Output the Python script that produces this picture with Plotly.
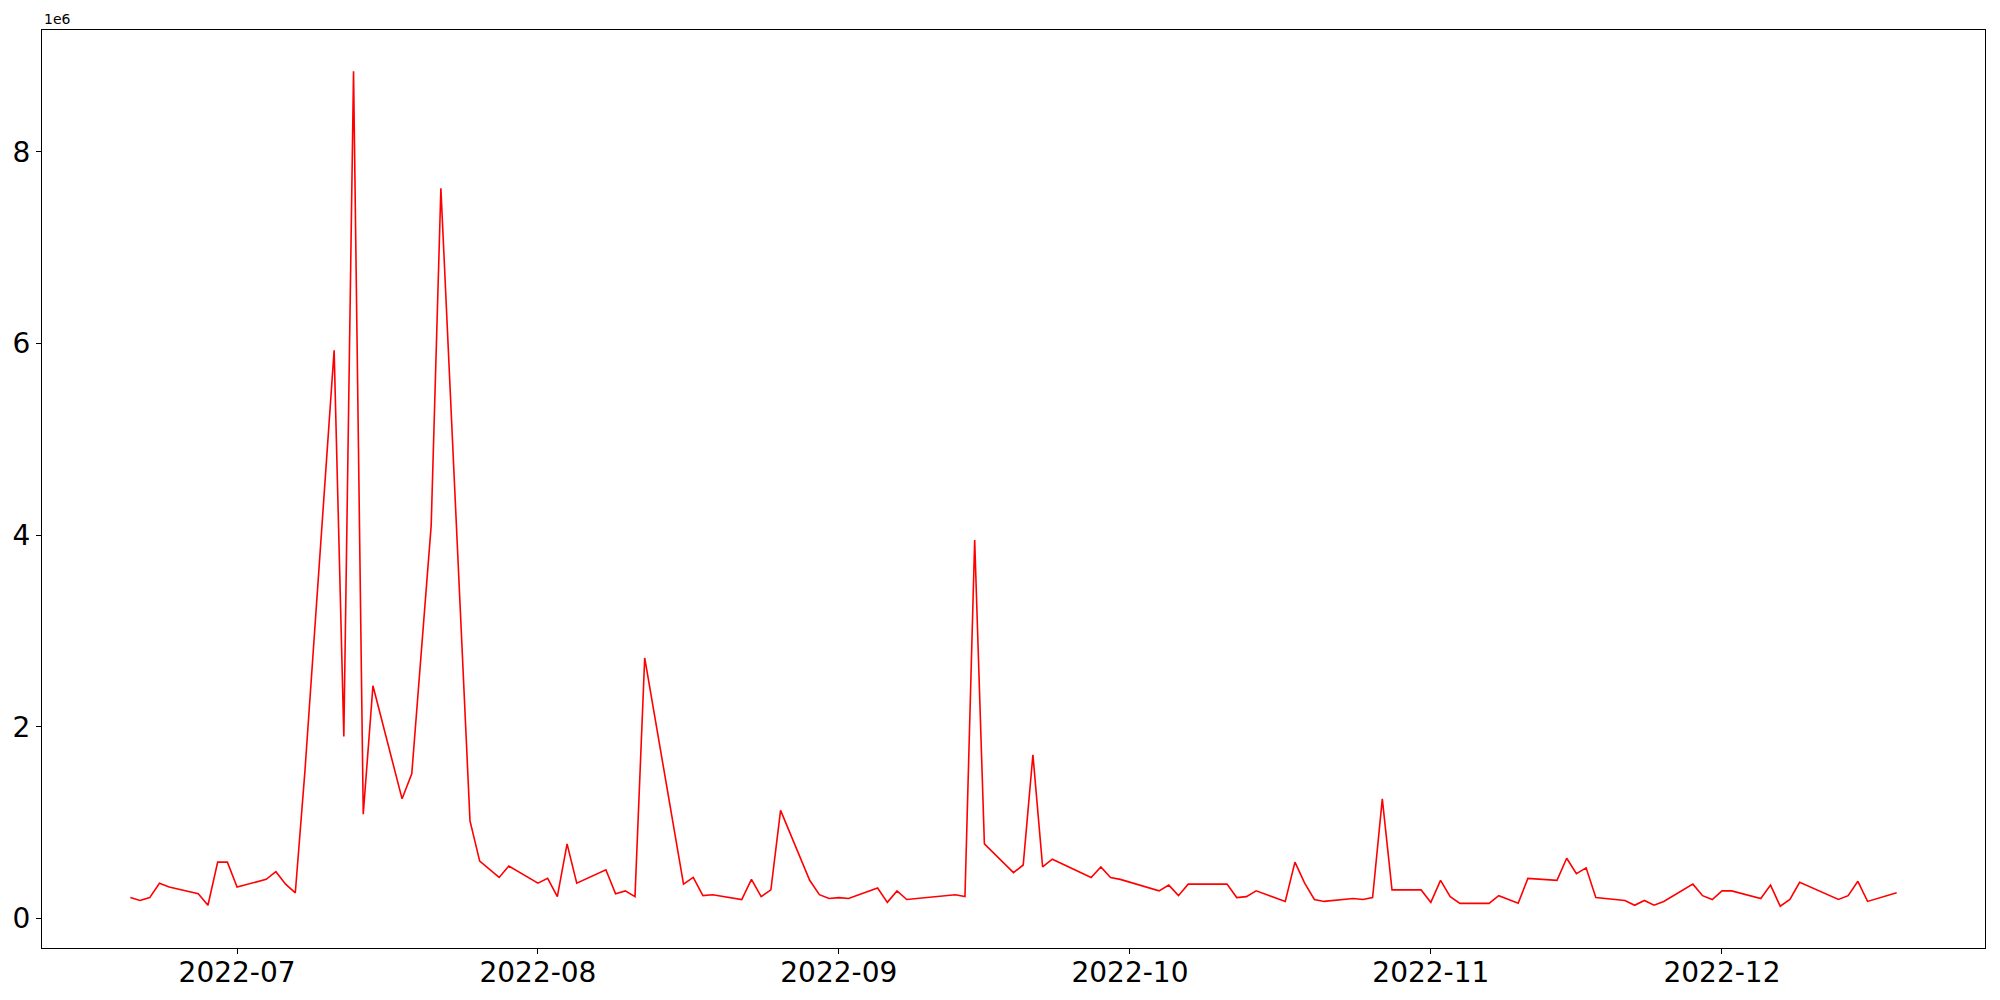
import plotly.graph_objects as go

dates = [
    "2022-06-20", "2022-06-21", "2022-06-22", "2022-06-23", "2022-06-24",
    "2022-06-27", "2022-06-28", "2022-06-29", "2022-06-30", "2022-07-01",
    "2022-07-04", "2022-07-05", "2022-07-06", "2022-07-07", "2022-07-08",
    "2022-07-11", "2022-07-12", "2022-07-13", "2022-07-14", "2022-07-15",
    "2022-07-18", "2022-07-19", "2022-07-21", "2022-07-22",
    "2022-07-25", "2022-07-26", "2022-07-28", "2022-07-29",
    "2022-08-01", "2022-08-02", "2022-08-03", "2022-08-04", "2022-08-05",
    "2022-08-08", "2022-08-09", "2022-08-10", "2022-08-11", "2022-08-12",
    "2022-08-16", "2022-08-17", "2022-08-18", "2022-08-19",
    "2022-08-22", "2022-08-23", "2022-08-24", "2022-08-25", "2022-08-26",
    "2022-08-29", "2022-08-30", "2022-08-31", "2022-09-01", "2022-09-02",
    "2022-09-05", "2022-09-06", "2022-09-07", "2022-09-08",
    "2022-09-13", "2022-09-14", "2022-09-15", "2022-09-16",
    "2022-09-19", "2022-09-20", "2022-09-21", "2022-09-22", "2022-09-23",
    "2022-09-27", "2022-09-28", "2022-09-29", "2022-09-30",
    "2022-10-04", "2022-10-05", "2022-10-06", "2022-10-07",
    "2022-10-11", "2022-10-12", "2022-10-13", "2022-10-14",
    "2022-10-17", "2022-10-18", "2022-10-19", "2022-10-20", "2022-10-21",
    "2022-10-24", "2022-10-25", "2022-10-26", "2022-10-27", "2022-10-28",
    "2022-10-31", "2022-11-01", "2022-11-02", "2022-11-03", "2022-11-04",
    "2022-11-07", "2022-11-08", "2022-11-10", "2022-11-11",
    "2022-11-14", "2022-11-15", "2022-11-16", "2022-11-17", "2022-11-18",
    "2022-11-21", "2022-11-22", "2022-11-23", "2022-11-24", "2022-11-25",
    "2022-11-28", "2022-11-29", "2022-11-30", "2022-12-01", "2022-12-02",
    "2022-12-05", "2022-12-06", "2022-12-07", "2022-12-08", "2022-12-09",
    "2022-12-13", "2022-12-14", "2022-12-15", "2022-12-16",
    "2022-12-19",
]

values = [
    220000, 190000, 220000, 370000, 330000,
    260000, 140000, 590000, 590000, 330000,
    410000, 490000, 360000, 270000, 1550000,
    5930000, 1900000, 8840000, 1090000, 2430000,
    1250000, 1510000, 4100000, 7620000,
    1020000, 600000, 430000, 550000,
    370000, 420000, 230000, 780000, 370000,
    510000, 260000, 290000, 230000, 2720000,
    360000, 430000, 240000, 250000,
    200000, 410000, 230000, 300000, 1130000,
    400000, 250000, 210000, 220000, 210000,
    320000, 170000, 290000, 200000,
    250000, 230000, 3950000, 780000,
    480000, 560000, 1710000, 540000, 620000,
    430000, 540000, 430000, 410000,
    290000, 350000, 240000, 360000,
    360000, 220000, 230000, 290000,
    180000, 590000, 370000, 200000, 180000,
    210000, 200000, 220000, 1250000, 300000,
    300000, 170000, 400000, 230000, 160000,
    160000, 240000, 160000, 420000,
    400000, 630000, 470000, 530000, 220000,
    190000, 140000, 190000, 140000, 180000,
    360000, 240000, 200000, 290000, 290000,
    210000, 350000, 130000, 200000, 380000,
    200000, 240000, 390000, 180000,
    270000,
]

x_tick_vals = ["2022-07-01", "2022-08-01", "2022-09-01", "2022-10-01", "2022-11-01", "2022-12-01"]
x_tick_text = ["2022-07", "2022-08", "2022-09", "2022-10", "2022-11", "2022-12"]
y_tick_vals = [0, 2000000, 4000000, 6000000, 8000000]
y_tick_text = ["0", "2", "4", "6", "8"]

FONT = "DejaVu Sans"

fig = go.Figure()
fig.add_trace(go.Scatter(
    x=dates, y=values, mode="lines",
    line=dict(color="red", width=1.6),
    showlegend=False,
))

# page body has an 8px margin, so the figure is sized to fill the window exactly
fig.update_layout(
    width=1984, height=984,
    margin=dict(l=34, r=7, t=22, b=44),
    paper_bgcolor="white", plot_bgcolor="white",
    font=dict(family=FONT, color="black"),
)

fig.update_xaxes(
    type="date", automargin=False,
    range=["2022-06-10 21:36", "2022-12-28 02:24"],
    tickvals=x_tick_vals, ticktext=x_tick_text,
    ticks="outside", ticklen=5, tickwidth=1.1, tickcolor="black",
    ticklabelstandoff=-6,
    showline=True, linecolor="black", linewidth=1.1, mirror=True,
    showgrid=False, zeroline=False,
    tickfont=dict(family=FONT, size=28, color="black"),
)
fig.update_yaxes(
    automargin=False,
    range=[-306000, 9270000],
    tickvals=y_tick_vals, ticktext=y_tick_text,
    ticks="outside", ticklen=5, tickwidth=1.1, tickcolor="black",
    showline=True, linecolor="black", linewidth=1.1, mirror=True,
    showgrid=False, zeroline=False,
    tickfont=dict(family=FONT, size=28, color="black"),
)

fig.add_annotation(
    text="1e6", x=0, y=1, xref="paper", yref="paper",
    xanchor="left", yanchor="bottom", showarrow=False,
    font=dict(family=FONT, size=14, color="black"), yshift=1,
)

fig.write_html("out.html")
